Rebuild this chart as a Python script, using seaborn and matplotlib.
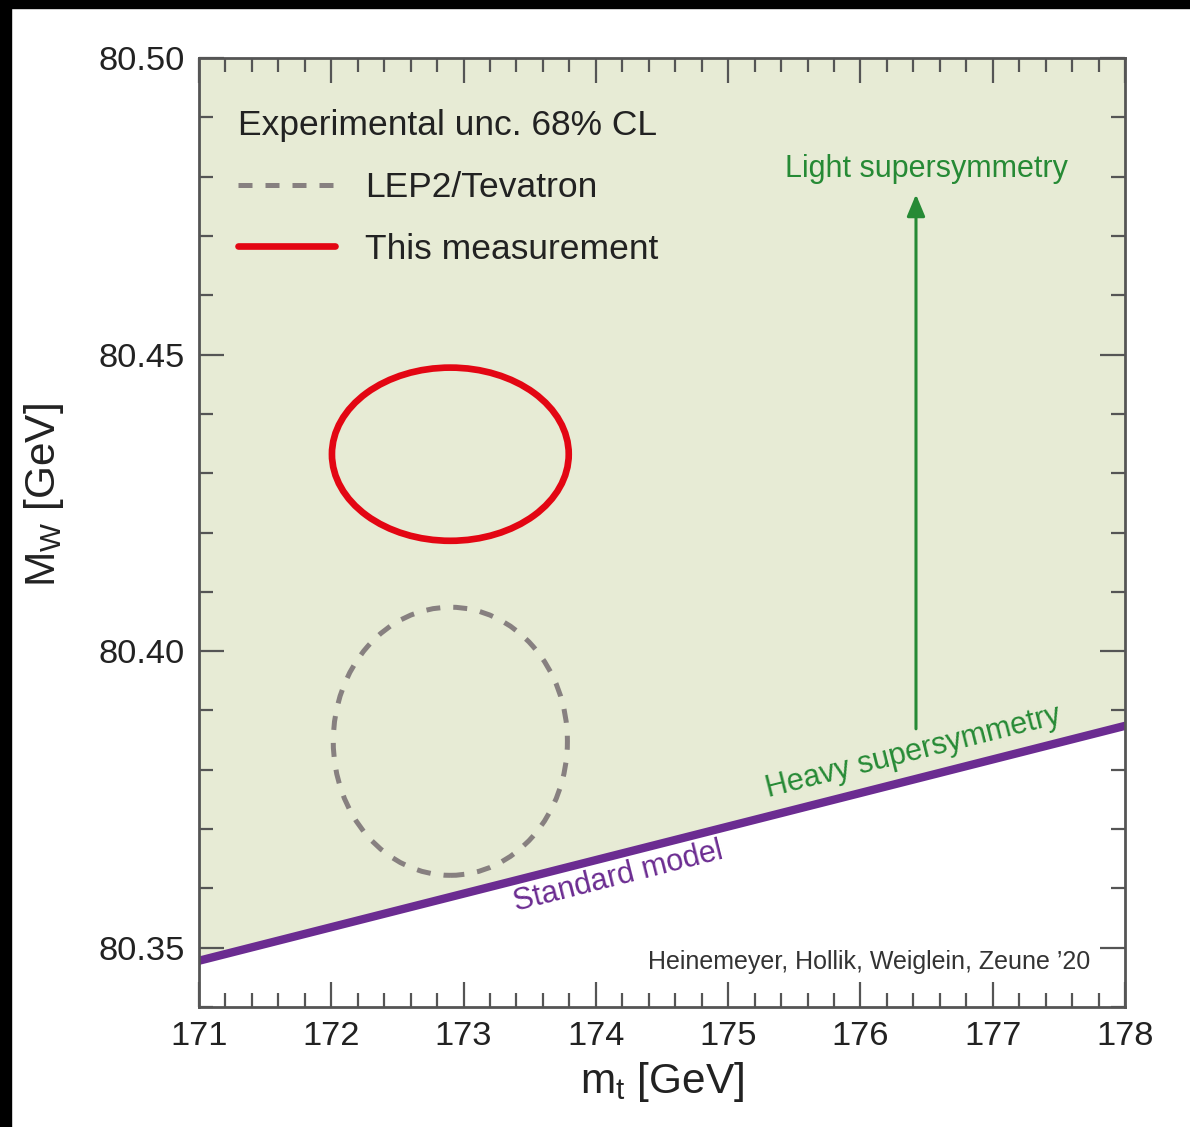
import matplotlib
matplotlib.use("Agg")
import matplotlib.pyplot as plt
import seaborn as sns
import numpy as np
import pandas as pd
from matplotlib.patches import Ellipse, Rectangle
from matplotlib.lines import Line2D
from matplotlib.ticker import MultipleLocator, FormatStrFormatter

# ---------------- data ----------------
x_limits = [171.0, 178.0]
y_limits = [80.34, 80.50]
x_ticks = [171, 172, 173, 174, 175, 176, 177, 178]
y_ticks = [80.35, 80.40, 80.45, 80.50]

sm_mt = [171.0, 178.0]              # Standard model line
sm_mw = [80.3478, 80.3874]

this_center = (172.90, 80.4332)     # This measurement (68% CL)
this_semi = (0.895, 0.0146)
lep_center = (172.90, 80.3848)      # LEP2/Tevatron (68% CL)
lep_semi = (0.885, 0.0226)

arrow_mt = 176.42                   # Light supersymmetry arrow
arrow_mw = [80.3869, 80.4770]

light_label = (176.50, 80.4813)
heavy_label = (176.40, 80.3830)
sm_label = (174.17, 80.3619)

# ---------------- style ----------------
sns.set_theme(style="ticks")
plt.rcParams["font.family"] = ["Liberation Sans", "DejaVu Sans"]
plt.rcParams["mathtext.fontset"] = "custom"
plt.rcParams["mathtext.rm"] = "Liberation Sans"
plt.rcParams["mathtext.it"] = "Liberation Sans"

RED = "#E30613"
GREY = "#878080"
PURPLE = "#6B2C91"
GREEN = "#268A35"
BG = "#E7EBD5"
TXT = "#222222"
SPINE = "#555555"

fig = plt.figure(figsize=(11.9, 11.27), dpi=100)
ax = fig.add_axes([199/1190, 1-1007/1127, (1125-199)/1190, (1007-58)/1127])
ax.set_facecolor("white")

# shaded region above the SM line
ax.fill_between(sm_mt, sm_mw, y_limits[1], color=BG, lw=0, zorder=0)

# SM line
sm_df = pd.DataFrame({"mt": sm_mt, "mw": sm_mw})
sns.lineplot(data=sm_df, x="mt", y="mw", ax=ax, color=PURPLE, lw=6, zorder=3)

# ellipses
ax.add_patch(Ellipse(this_center, 2*this_semi[0], 2*this_semi[1], fill=False,
                     ec=RED, lw=4.8, zorder=4))
ax.add_patch(Ellipse(lep_center, 2*lep_semi[0], 2*lep_semi[1], fill=False,
                     ec=GREY, lw=3.6, ls=(0, (2.8, 2.6)), zorder=4))

# arrow
ax.annotate("", xy=(arrow_mt, arrow_mw[1]), xytext=(arrow_mt, arrow_mw[0]),
            arrowprops=dict(arrowstyle="-|>,head_length=0.6,head_width=0.25",
                            lw=2.2, color=GREEN, shrinkA=0, shrinkB=0,
                            mutation_scale=22), zorder=5)

ax.text(*light_label, "Light supersymmetry", color=GREEN, fontsize=22,
        ha="center", va="center")
ax.text(*heavy_label, "Heavy supersymmetry", color=GREEN, fontsize=22,
        ha="center", va="center", rotation=14.2, rotation_mode="anchor")
ax.text(*sm_label, "Standard model", color=PURPLE, fontsize=22,
        ha="center", va="center", rotation=14.2, rotation_mode="anchor")
ax.text(0.963, 0.047, "Heinemeyer, Hollik, Weiglein, Zeune \u201920",
        transform=ax.transAxes, color="#333333", fontsize=18,
        ha="right", va="center")

# legend
handles = [Line2D([], [], color=GREY, lw=3.6, ls=(0, (2.8, 2.6))),
           Line2D([], [], color=RED, lw=4.8)]
leg = ax.legend(handles, ["LEP2/Tevatron", "This measurement"],
                title="Experimental unc. 68% CL", loc="upper left",
                bbox_to_anchor=(0.042, 0.946), frameon=False, fontsize=25.5,
                title_fontsize=25.5, handlelength=2.75, handletextpad=0.85,
                labelspacing=0.8, borderaxespad=0, borderpad=0)
leg._legend_box.align = "left"
leg._legend_box.sep = 21
for t in leg.get_texts():
    t.set_color(TXT)
leg.get_title().set_color(TXT)

# axes
ax.set_xlim(*x_limits)
ax.set_ylim(*y_limits)
ax.set_xticks(x_ticks)
ax.set_yticks(y_ticks)
ax.xaxis.set_minor_locator(MultipleLocator(0.2))
ax.yaxis.set_minor_locator(MultipleLocator(0.01))
ax.yaxis.set_major_formatter(FormatStrFormatter("%.2f"))
ax.tick_params(which="both", direction="in", top=True, right=True,
               color=SPINE, width=1.6, labelcolor=TXT, labelsize=24.8)
ax.tick_params(which="major", length=18, pad=10)
ax.tick_params(which="minor", length=10)
for s in ax.spines.values():
    s.set_color(SPINE)
    s.set_linewidth(2)
    s.set_zorder(6)

ax.set_xlabel(r"$\mathregular{m_t}$ [GeV]", fontsize=30.5, color=TXT, labelpad=6)
ax.set_ylabel(r"$\mathregular{M_W}$ [GeV]", fontsize=30.5, color=TXT)
ax.yaxis.set_label_coords(-0.1435, 0.5395)

# black strips at image edges
fig.add_artist(Rectangle((0, 1-8/1127), 1, 8/1127, transform=fig.transFigure,
                         color="black", zorder=10))
fig.add_artist(Rectangle((0, 0), 11/1190, 1, transform=fig.transFigure,
                         color="black", zorder=10))

fig.savefig("out.png", dpi=100, facecolor="white")
